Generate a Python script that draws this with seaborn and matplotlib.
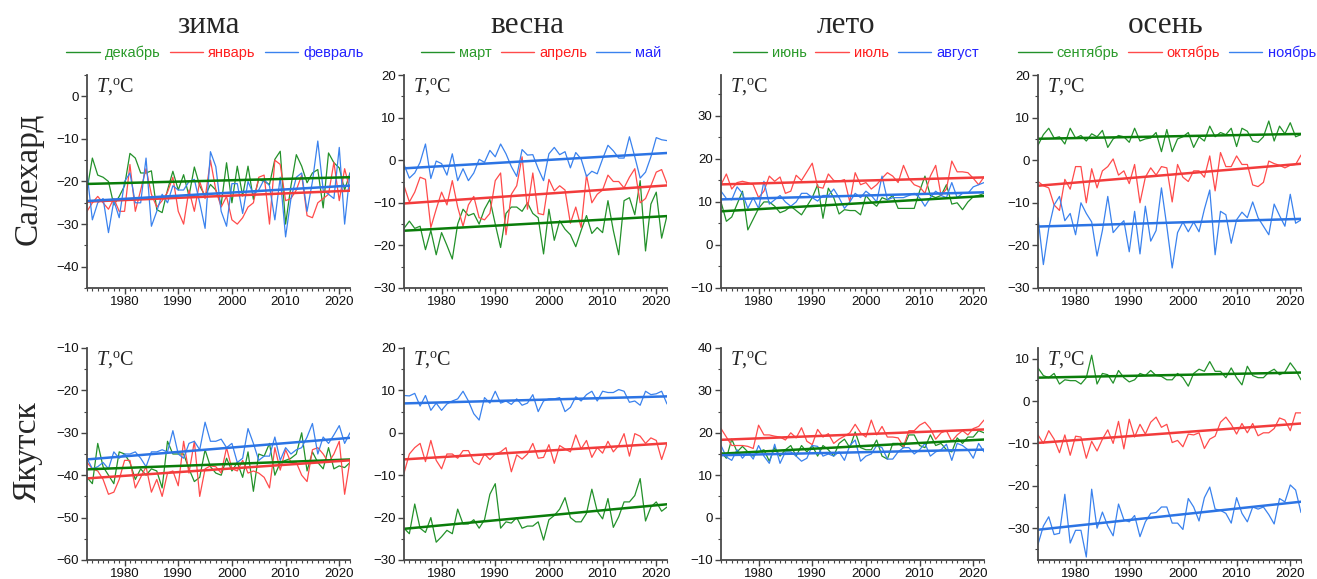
import numpy as np
import pandas as pd
import matplotlib
matplotlib.use("Agg")
import matplotlib.pyplot as plt
from matplotlib.ticker import MultipleLocator
import seaborn as sns

years = np.arange(1973, 2023)

seasons = ["зима", "весна", "лето", "осень"]
stations = ["Салехард", "Якутск"]
months = [["декабрь", "январь", "февраль"],
          ["март", "апрель", "май"],
          ["июнь", "июль", "август"],
          ["сентябрь", "октябрь", "ноябрь"]]

# ---- Салехард ----
sal_dec = [-22, -14.5, -18.5, -19, -20, -25.5, -23.5, -21, -13.4, -14.5, -18, -18, -17.5, -26.6, -27.3, -22, -17.6, -22, -18.4, -23.4,
           -16.6, -21, -23.4, -20.7, -22, -25.4, -15.6, -25, -16.4, -23.4, -16.4, -24.2, -19.5, -20, -20.7, -14.8, -12.9, -30, -21, -13.7,
           -16.4, -20.3, -18, -17.2, -26.2, -13.3, -15.6, -16.8, -22, -18]
sal_jan = [-27, -25, -23.5, -25, -26.5, -24, -27, -27, -16, -27, -22, -17, -23, -26, -24.5, -22.5, -19, -27, -30, -22,
           -27, -20, -24, -15, -22, -26, -23.5, -29, -30, -28.5, -26, -25, -19, -18.5, -30, -15, -16, -24.5, -24, -22,
           -18.5, -28, -28.5, -25, -24, -23, -15.5, -24.5, -17, -22]
sal_feb = [-18, -29, -25, -24, -32, -24.5, -28.5, -20, -18, -25, -25, -14.5, -30.5, -27, -23, -25, -21, -22, -22, -20,
           -19.5, -25, -31, -13, -16.5, -27, -30.5, -20.5, -20.5, -27.5, -20, -23, -22, -19.5, -21, -29, -19, -33, -24, -19,
           -18, -27, -20, -10.5, -22, -23, -24, -12, -30, -18]
sal_mar = [-16, -14.3, -16, -15.5, -21, -16.5, -22.2, -17, -20, -23.2, -15, -11.5, -13, -12.5, -15, -11.5, -9.2, -15, -20.5, -12.5,
           -11, -11, -12, -10, -12.5, -13.5, -22, -11.5, -18.8, -14.2, -16.2, -17.5, -20.3, -16.5, -13, -17.2, -15.8, -17, -9.5, -16.5,
           -22.2, -9.5, -8.8, -12.8, -4.8, -21.3, -10.3, -7.5, -18.3, -13]
sal_apr = [-6, -9.8, -7.5, -4, -4.5, -15.8, -11.5, -7.5, -10.5, -4.8, -11, -15.5, -10.5, -8.5, -13.5, -14, -12.5, -4.8, -3, -17.5,
           -8, -6, 0.8, -11.5, -3, -12.5, -12.8, -4.5, -7.2, -6, -7, -14.8, -11, -15.8, -3.5, -10, -8, -7, -3.5, -5,
           -5, -6.5, -4, -2, -10, -9, -6, -2.8, -2.2, -5.5]
sal_may = [-1, -4.2, -3, -0.5, 3.8, -4.3, -0.2, -0.8, -3.5, 1.5, -4.8, -2, -4.8, -3, 0.2, -0.5, 2.3, 0.8, 3.8, 1.5,
           -1.5, -3.8, 2.5, 1.2, 1.3, -2, -4.8, 1.5, 3, 1.3, 2, -1.8, 1.8, 0.3, -3.8, -2.6, -3.2, 0.3, 3.5, 2.2,
           0.5, 0.5, 5.5, 0.8, -4.2, -2.8, 0.8, 5.3, 4.8, 4.6]
sal_jun = [10, 5.5, 6.5, 9.5, 12.5, 3.5, 6, 8.5, 10, 10, 9, 7.5, 8, 9, 8, 7, 9, 11, 14, 6.2,
           13.2, 11, 7.2, 8.2, 8, 8, 7, 11.5, 10, 9, 11, 10.5, 11.5, 8.5, 8.5, 8.5, 8.5, 12.5, 16, 11.5,
           11, 11.5, 14, 9.5, 9.8, 8.2, 10, 11.2, 11.5, 12]
sal_jul = [14, 16.5, 13, 14.5, 14.8, 14.5, 14, 11, 12.5, 16, 14.8, 15.8, 12, 12.5, 16.2, 15, 17, 19, 13.5, 13.2,
           16.5, 15, 14.8, 15.2, 10, 16.8, 14, 14.5, 13, 14, 15.5, 16.8, 16, 14.5, 18.5, 15.5, 14, 13.5, 12, 16,
           18.5, 11.5, 13, 19.5, 17, 17, 16.8, 15.5, 14, 15.8]
sal_aug = [12.5, 10.8, 10.5, 13.5, 12, 8.5, 11, 8.5, 14.8, 9.5, 10.5, 11.5, 10, 9, 10, 12, 12, 11, 10.2, 11.5,
           11.5, 13, 11, 8.5, 10, 12, 11, 12.5, 11.5, 10, 16, 10.5, 11, 11, 11, 11.5, 12, 11, 9, 11,
           12.5, 11.5, 11, 14.5, 11, 12, 12, 13.5, 14, 14.5]
sal_sep = [3.5, 6, 7.5, 5.2, 5.5, 3.8, 7.5, 5.2, 5.8, 4.5, 6.2, 5.5, 7, 3, 5, 5.8, 5.5, 4.2, 7.5, 4.5,
           5, 5.2, 6.5, 2, 7.2, 2, 5, 5.5, 6.5, 3, 5.5, 4.5, 8, 5.5, 6.5, 6, 7.5, 3.2, 7.5, 6.8,
           4.5, 4.2, 5.5, 9.2, 4.5, 8, 6.2, 8.8, 5.5, 6]
sal_oct = [-5, -6, -6.5, -10.5, -11.8, -4.5, -6.8, -1.5, -1.5, -10, -2, -6.5, -2.5, -1.5, 0.3, -3.5, -2.5, -5.5, -1, -10,
           -4, -1.8, -3.5, -1.5, -1.8, -9.8, -1, -4, -5, -2.5, -2.5, -4, 1, -7.2, 1.8, -1.5, -1.5, 1, -1, -1,
           -5.8, -6.2, -5.2, -0.2, -0.8, -1.2, -1.8, -1.2, -1, 1.2]
sal_nov = [-13.5, -24.5, -16, -10.5, -8.5, -14.2, -12.5, -17.5, -10, -12.5, -14.5, -22.5, -16.5, -8.5, -17, -15.5, -14.2, -21.5, -12, -22,
           -10.8, -19, -16.5, -6.5, -15.5, -25.3, -17, -14.5, -16.8, -14.5, -16.8, -11.5, -7, -22.2, -12, -12.8, -19.5, -14, -12.2, -13.5,
           -9.8, -13.5, -15.5, -17.5, -10.3, -13, -15.5, -8, -14.8, -14]

# ---- Якутск ----
yak_dec = [-40.5, -42, -32.5, -38, -40, -42, -34.5, -35, -37, -41, -38.5, -40, -38.5, -39, -43, -32, -35, -35, -35, -38.5,
           -41.5, -40.5, -34, -38, -39.5, -40, -36, -39, -37, -40.5, -34.5, -43.8, -35, -35.5, -32.5, -40, -37, -36.5, -36, -35,
           -30, -39, -34.5, -37, -38.5, -33.5, -38.5, -37.8, -38.2, -37]
yak_jan = [-37, -38.5, -39, -41, -44.5, -44, -41, -36.5, -36.5, -43, -40.5, -38, -44, -41, -45, -39.5, -39, -42.5, -32, -39.5,
           -32, -45, -38.5, -37.8, -38, -39.5, -33.5, -38.5, -39, -36.5, -39.5, -39, -39.5, -40.5, -43, -33.5, -38.8, -34, -37, -37,
           -40, -41.5, -34, -33.5, -35, -37, -35, -32, -44.5, -36.5]
yak_feb = [-36, -38.5, -38, -37, -38.5, -34.5, -36, -35, -35, -34.5, -36, -38, -34.5, -34.5, -34, -34.5, -29.5, -35, -36, -32.5,
           -32, -34, -27.5, -32, -32, -31.5, -33.5, -32.5, -37, -36, -29, -32.5, -36.5, -35.5, -35.5, -31, -36.5, -33.5, -35, -34,
           -33.5, -31, -27.8, -35, -31, -32.5, -30.5, -28.3, -32.5, -30]
yak_mar = [-22.5, -23.8, -16.8, -22.5, -23.5, -20, -25.8, -24.5, -23, -23.8, -18, -21.5, -21.5, -20.5, -22.5, -20.5, -14.5, -12, -22.5, -21,
           -21.3, -20, -22.5, -22, -22, -21, -25.3, -20.5, -19.5, -18, -15.3, -20, -21, -21, -19, -13.3, -18.5, -20.3, -15.5, -22.3,
           -19.8, -16.3, -16.3, -14.8, -10.8, -20.8, -17.5, -16.3, -18.5, -17.5]
yak_apr = [-9.5, -5, -3.5, -2.5, -6.8, -1.8, -6.5, -8.5, -5, -5, -6, -4.2, -4.2, -6.8, -7.5, -5, -6.3, -5, -4.5, -3.5,
           -9.2, -5.2, -6.2, -5, -2.5, -6, -5.8, -2.8, -7.2, -3, -3.8, -4.5, -0.5, -3.8, -1.8, -5.8, -3.5, -4.8, -2, -4.5,
           -3, -0.2, -5.5, -0.2, -0.8, -2.5, -1.2, -1.8, -6.3, -2.5]
yak_may = [8.8, 8.7, 9.3, 6.3, 8.8, 5.3, 7, 5.3, 6.8, 7.5, 8, 9.8, 7.5, 4.5, 3, 8.3, 7, 9.8, 7, 7.5,
           6.7, 8, 6.5, 7, 9, 5, 7.5, 8, 8, 8.3, 5, 6, 8.5, 7.5, 9, 9.8, 7.5, 9.8, 9.5, 9.5,
           10.2, 9.8, 7.2, 7.5, 6.5, 9.8, 9, 9.2, 9.8, 6.8]
yak_jun = [15.5, 14, 18.5, 15.5, 16.8, 15.5, 14.5, 15.5, 16, 13.3, 16.5, 14.5, 16, 17, 14.5, 17, 15.5, 17, 14.5, 17,
           16, 14.5, 17.5, 18.5, 16.5, 20.2, 16.5, 16, 16, 18.3, 14.5, 13.8, 17.5, 17.5, 16.5, 19.5, 19.5, 17, 16.5, 19.5,
           17, 17.5, 16, 15.5, 18.8, 17.5, 19, 19, 20.5, 20]
yak_jul = [21, 19, 17, 17, 17, 16.8, 16.3, 21.8, 19.5, 19.5, 19.2, 19, 18.3, 20, 18.8, 21.2, 18, 17.2, 20.8, 19,
           19.8, 17.5, 18.5, 19.2, 20, 22, 20, 19, 23, 19.5, 21.5, 19, 19, 18.8, 16.8, 20.5, 20.5, 21.8, 22.5, 21,
           18.5, 20, 20.5, 18, 19.5, 20.5, 19.5, 21, 21.5, 23]
yak_aug = [17, 14.3, 13.5, 16, 14, 15.5, 13.8, 17, 14.5, 12.8, 17.3, 12.8, 15.5, 15.5, 14.5, 13.3, 14, 17, 16.8, 14.5,
           15, 14.5, 15.5, 13.5, 17, 18.3, 13.3, 14.5, 15, 17, 16.5, 13.8, 13.8, 15.5, 16.5, 16.5, 15, 16, 17.5, 14.5,
           15.5, 16, 17.3, 13.5, 17.5, 17, 16, 14, 17.5, 15.5]
yak_sep = [7.8, 6, 5.5, 6.5, 4, 5, 4.8, 4.8, 4, 5.5, 10.8, 4, 6.5, 6.2, 4.2, 7.2, 5.5, 4.5, 5, 6.5,
           6, 7.2, 6, 5.8, 5, 5, 6.5, 5.5, 3.5, 6.5, 7.5, 7, 9.3, 7, 7, 5.5, 7.8, 5.5, 3.8, 8.2,
           6, 5.5, 5.5, 6.8, 7.5, 6.2, 6.8, 9, 7.3, 5]
yak_oct = [-8, -10, -7, -9, -12.2, -8, -12.8, -8.3, -8.5, -13.5, -9.5, -11.8, -9, -6.8, -10, -4.8, -11.3, -4.3, -8.5, -5.5,
           -7.8, -5, -3.8, -6.2, -5.5, -9.8, -9.3, -10.8, -7.8, -8, -7.5, -11.2, -9, -8.3, -5, -3.8, -5.5, -7.8, -5.3, -7.5,
           -5.3, -8.2, -7.5, -7.5, -6.5, -4, -4.5, -7, -2.8, -2.8]
yak_nov = [-33.8, -29.5, -27.3, -31.5, -31.2, -22, -33.5, -30.5, -30.5, -36.8, -20.8, -30, -26.2, -29.5, -31.8, -24.3, -28, -28.5, -27, -32,
           -28.5, -26.5, -26.3, -25, -25, -28.8, -28.8, -30.3, -23, -25, -28.3, -22.8, -20.3, -25.5, -25.8, -26.5, -28.8, -22.8, -26.5, -28.5,
           -25, -25.5, -25, -26.8, -29, -23, -23.8, -19.8, -21, -26.3]

series = {
    ("Салехард", 0): [sal_dec, sal_jan, sal_feb],
    ("Салехард", 1): [sal_mar, sal_apr, sal_may],
    ("Салехард", 2): [sal_jun, sal_jul, sal_aug],
    ("Салехард", 3): [sal_sep, sal_oct, sal_nov],
    ("Якутск", 0): [yak_dec, yak_jan, yak_feb],
    ("Якутск", 1): [yak_mar, yak_apr, yak_may],
    ("Якутск", 2): [yak_jun, yak_jul, yak_aug],
    ("Якутск", 3): [yak_sep, yak_oct, yak_nov],
}

ylims = {
    ("Салехард", 0): (-45, 5), ("Салехард", 1): (-30, 20),
    ("Салехард", 2): (-10, 39.5), ("Салехард", 3): (-30, 20),
    ("Якутск", 0): (-60, -10), ("Якутск", 1): (-30, 20),
    ("Якутск", 2): (-10, 40), ("Якутск", 3): (-37.5, 12.5),
}

line_colors = ["#23912a", "#ff4b4b", "#3a82ee"]
trend_colors = ["#0a7d0a", "#f23c3c", "#2c74e4"]
label_colors = ["#2a9a2a", "#ff1f1f", "#2424ff"]

sns.set_theme(style="ticks")
plt.rcParams["font.family"] = ["Liberation Sans", "DejaVu Sans"]
plt.rcParams["mathtext.fontset"] = "custom"
plt.rcParams["mathtext.rm"] = "Liberation Serif"
plt.rcParams["mathtext.it"] = "Liberation Serif:italic"

W, H = 1317, 579
fig = plt.figure(figsize=(W / 100, H / 100), dpi=100)

col_left = [87, 404, 721, 1038]
col_width = 263
row_top = [75, 348]
row_height = [213, 212]

legend_cx = [215, 541, 856, 1167]
title_cx = [208, 527, 846, 1166]

for r, st in enumerate(stations):
    for c in range(4):
        x0 = col_left[c] / W
        y0 = 1 - (row_top[r] + row_height[r]) / H
        ax = fig.add_axes([x0, y0, col_width / W, row_height[r] / H])
        vals = series[(st, c)]
        for k in range(3):
            sns.lineplot(x=years, y=vals[k], ax=ax, color=line_colors[k], linewidth=0.9,
                         label=months[c][k] if r == 0 else None, legend=False)
        for k in range(3):
            sns.regplot(x=years, y=np.array(vals[k]), ax=ax, scatter=False, ci=None,
                        color=trend_colors[k], line_kws={"linewidth": 1.8})
        ax.set_xlim(1973, 2022)
        ax.set_ylim(*ylims[(st, c)])
        ax.set_xlabel("")
        ax.set_ylabel("")
        ax.xaxis.set_major_locator(MultipleLocator(10))
        ax.xaxis.set_minor_locator(MultipleLocator(1))
        ax.yaxis.set_major_locator(MultipleLocator(10))
        ax.yaxis.set_minor_locator(MultipleLocator(5))
        ax.tick_params(which="major", direction="out", length=4, width=1.0,
                       color="#444444", labelsize=9.5, labelcolor="#111111", pad=2)
        ax.tick_params(which="minor", direction="out", length=2, width=0.8, color="#444444")
        sns.despine(ax=ax)
        for sp in ("left", "bottom"):
            ax.spines[sp].set_color("#4a4a4a")
            ax.spines[sp].set_linewidth(1.3)
        ax.text(0.033, 0.995, r"$T$,$^{\rm o}$C", transform=ax.transAxes,
                ha="left", va="top", fontsize=14.5, family="Liberation Serif")
        if r == 0:
            handles, labels = ax.get_legend_handles_labels()
            handles, labels = handles[:3], labels[:3]
            leg = ax.legend(handles, labels, loc="center",
                            bbox_to_anchor=((legend_cx[c] - col_left[c]) / col_width, 1 + 22 / row_height[r]),
                            ncol=3, frameon=False, fontsize=10.5, handlelength=2.3,
                            handletextpad=0.35, columnspacing=0.6, labelcolor=label_colors,
                            borderaxespad=0, borderpad=0)
            for h in leg.get_lines():
                h.set_linewidth(1.0)

for c, s in enumerate(seasons):
    fig.text(title_cx[c] / W, 1 - 33 / H, s, ha="center", va="baseline",
             fontsize=22.5, family="Liberation Serif")

fig.text(28 / W, 1 - 179 / H, stations[0], rotation=90, ha="center", va="center",
         fontsize=24, family="Liberation Serif")
fig.text(28 / W, 1 - 452 / H, stations[1], rotation=90, ha="center", va="center",
         fontsize=24, family="Liberation Serif")

fig.savefig("out.png", dpi=100, facecolor="white")
